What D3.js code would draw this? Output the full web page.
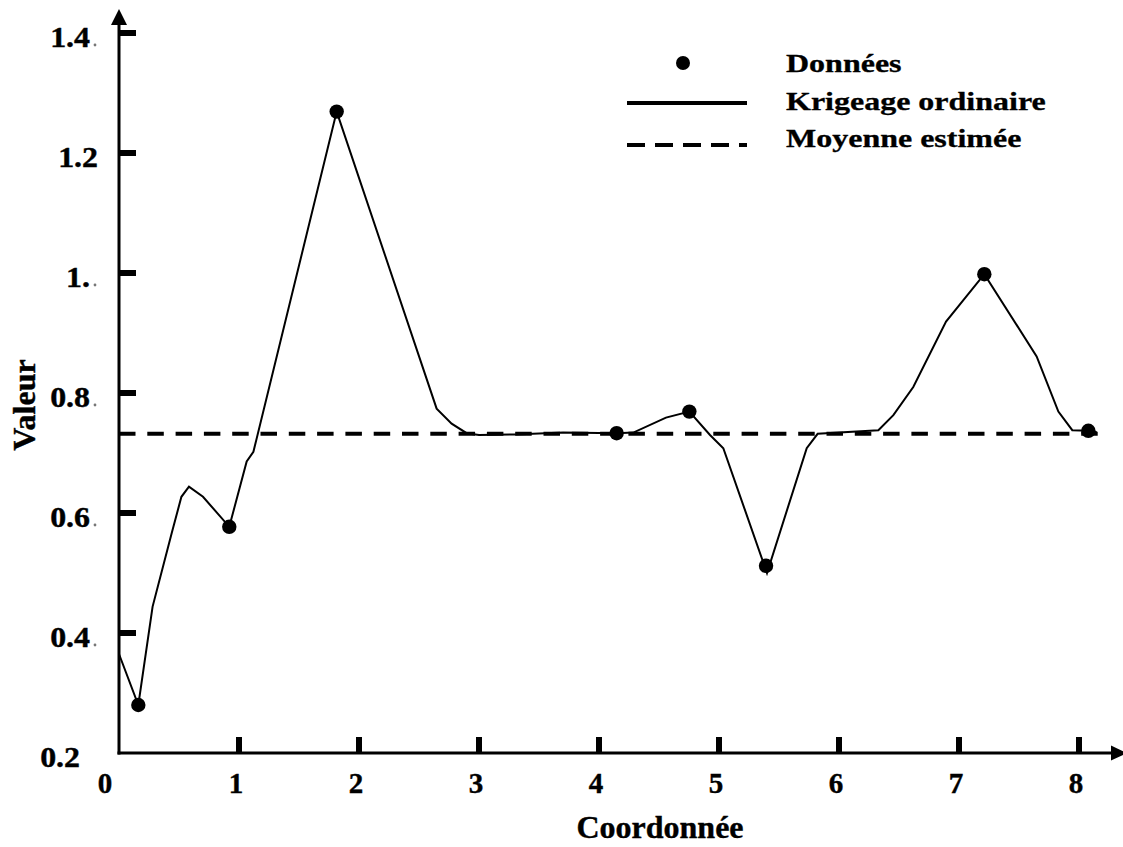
<!DOCTYPE html>
<html>
<head>
<meta charset="utf-8">
<script src="https://cdn.jsdelivr.net/npm/d3@7"></script>
<style>
  html, body { margin: 0; padding: 0; background: #fff; }
  svg { display: block; }
  text { font-family: "Liberation Serif", "Times New Roman", serif; font-weight: bold; fill: #000; stroke: #000; stroke-width: 0.4px; }
</style>
</head>
<body>
<svg id="chart" width="1123" height="847"></svg>
<script>
// ---- data ----
const dataX = [0.161, 0.919, 1.814, 4.147, 4.753, 5.392, 7.211, 8.078];
const dataY = [0.280, 0.577, 1.269, 0.733, 0.769, 0.512, 0.998, 0.737];

const krigX = [0, 0.161, 0.28, 0.44, 0.52, 0.583, 0.70, 0.919, 1.064, 1.12, 1.814,
  2.647, 2.772, 2.897, 3.0, 3.3, 3.7, 4.147, 4.286, 4.558, 4.753, 4.925, 5.036,
  5.40, 5.731, 5.822, 6.328, 6.453, 6.619, 6.892, 7.211, 7.647, 7.828, 7.944, 8.078, 8.147];
const krigY = [0.365, 0.280, 0.444, 0.567, 0.627, 0.644, 0.627, 0.577, 0.686, 0.702, 1.269,
  0.774, 0.749, 0.733, 0.730, 0.731, 0.734, 0.733, 0.734, 0.759, 0.769, 0.730, 0.708,
  0.500, 0.708, 0.732, 0.738, 0.763, 0.810, 0.919, 0.998, 0.861, 0.769, 0.738, 0.737, 0.735];

const meanValue = 0.732;
const meanRange = [0, 8.2];

const xTicks = [0, 1, 2, 3, 4, 5, 6, 7, 8];
const xTickLabels = ["0", "1", "2", "3", "4", "5", "6", "7", "8"];
const yTicks = [0.2, 0.4, 0.6, 0.8, 1.0, 1.2, 1.4];
const yTickLabels = ["0.2", "0.4", "0.6", "0.8", "1.", "1.2", "1.4"];
const yTickSmallDot = [false, true, true, true, true, false, true];

const legendLabels = ["Données", "Krigeage ordinaire", "Moyenne estimée"];
const xTitle = "Coordonnée";
const yTitle = "Valeur";

// ---- drawing ----
const svg = d3.select("#chart");
const x = d3.scaleLinear().domain([0, 8]).range([119, 1079]);
const y = d3.scaleLinear().domain([0.2, 1.4]).range([753, 33]);

const x0 = x(0), y0 = y(0.2);

// mean dashed line
svg.append("line")
  .attr("x1", x(meanRange[0])).attr("x2", x(meanRange[1]))
  .attr("y1", y(meanValue)).attr("y2", y(meanValue))
  .attr("stroke", "#000").attr("stroke-width", 4)
  .attr("stroke-dasharray", "16.5 11.8");

// kriging line
const pts = krigX.map((v, i) => [v, krigY[i]]);
svg.append("path")
  .attr("d", d3.line().x(d => x(d[0])).y(d => y(d[1]))(pts))
  .attr("fill", "none").attr("stroke", "#000").attr("stroke-width", 2)
  .attr("stroke-linejoin", "miter");

// data dots
svg.selectAll("circle.data").data(dataX.map((v, i) => [v, dataY[i]]))
  .enter().append("circle")
  .attr("cx", d => x(d[0])).attr("cy", d => y(d[1])).attr("r", 7.2)
  .attr("fill", "#000");

// axes lines
svg.append("line").attr("x1", x0).attr("x2", x0).attr("y1", y0 + 1.5).attr("y2", 24)
  .attr("stroke", "#000").attr("stroke-width", 3);
svg.append("line").attr("x1", x0 - 1.5).attr("x2", 1112).attr("y1", y0).attr("y2", y0)
  .attr("stroke", "#000").attr("stroke-width", 3);
// arrows
svg.append("path").attr("d", `M${x0},9 L${x0 + 8},25 L${x0 - 8},25 Z`).attr("fill", "#000");
svg.append("path").attr("d", `M1127,${y0} L1111,${y0 - 7.5} L1111,${y0 + 7.5} Z`).attr("fill", "#000");

// x ticks
xTicks.forEach((t, i) => {
  if (t > 0) {
    svg.append("line").attr("x1", x(t)).attr("x2", x(t))
      .attr("y1", y0).attr("y2", y0 - 16)
      .attr("stroke", "#000").attr("stroke-width", 6);
  }
  const lx = t === 0 ? x(t) - 14 : x(t) - 3;
  svg.append("text").attr("x", lx).attr("y", 793)
    .attr("text-anchor", "middle").attr("font-size", 29).text(xTickLabels[i]);
});

// y ticks
yTicks.forEach((t, i) => {
  if (i > 0) {
    svg.append("line").attr("x1", x0).attr("x2", x0 + 17)
      .attr("y1", y(t)).attr("y2", y(t))
      .attr("stroke", "#000").attr("stroke-width", 6);
  }
  let xr = 90;
  if (!yTickSmallDot[i]) xr = (i === 0) ? 80 : 98;
  svg.append("text").attr("transform", `translate(${xr},${y(t) + 14}) scale(1.1,1)`)
    .attr("text-anchor", "end").attr("font-size", 29).text(yTickLabels[i]);
  if (yTickSmallDot[i]) {
    svg.append("circle").attr("cx", 95).attr("cy", y(t) + 12).attr("r", 1.4).attr("fill", "#777");
  }
});

// titles
svg.append("text").attr("x", 660).attr("y", 838).attr("text-anchor", "middle")
  .attr("font-size", 32).text(xTitle);
svg.append("text").attr("transform", "translate(35,405) rotate(-90)")
  .attr("text-anchor", "middle").attr("font-size", 32).text(yTitle);

// legend
const lg = svg.append("g");
lg.append("circle").attr("cx", 683).attr("cy", 63).attr("r", 7).attr("fill", "#000");
lg.append("line").attr("x1", 627).attr("x2", 747).attr("y1", 103).attr("y2", 103)
  .attr("stroke", "#000").attr("stroke-width", 4);
lg.append("line").attr("x1", 627).attr("x2", 747).attr("y1", 145).attr("y2", 145)
  .attr("stroke", "#000").attr("stroke-width", 4).attr("stroke-dasharray", "18 10");
const lgBase = [72, 110, 147];
legendLabels.forEach((l, i) => {
  lg.append("text").attr("transform", `translate(786,${lgBase[i]}) scale(1,0.78)`)
    .attr("font-size", 32).text(l);
});
</script>
</body>
</html>
